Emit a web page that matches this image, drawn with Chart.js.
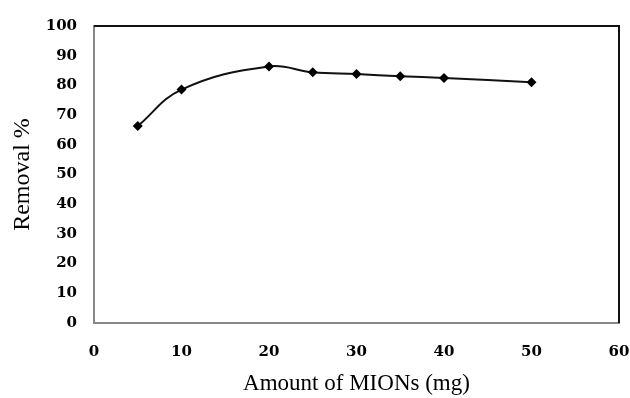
<!DOCTYPE html>
<html>
<head>
<meta charset="utf-8">
<script src="https://cdn.jsdelivr.net/npm/chart.js@4/dist/chart.umd.min.js"></script>
<style>
  html, body { margin: 0; padding: 0; background: #fff; }
  #wrap { width: 630px; height: 398px; }
</style>
</head>
<body>
<div id="wrap"><canvas id="c" width="630" height="398"></canvas></div>
<script>
// MION dose (mg) and removal efficiency (%)
const doses = [5, 10, 20, 25, 30, 35, 40, 50];
const removal = [66.3, 78.6, 86.4, 84.4, 83.8, 83.1, 82.5, 81.1];
const xTicks = [0, 10, 20, 30, 40, 50, 60];
const yTicks = [0, 10, 20, 30, 40, 50, 60, 70, 80, 90, 100];

const tickFont = { family: '"DejaVu Serif", serif', size: 15, weight: 'bold' };
const titleFont = { family: '"Liberation Serif", serif', size: 23 };

// closes the plot frame on the top and right sides
const frame = {
  id: 'frame',
  afterDatasetsDraw(chart) {
    const { ctx, chartArea: a } = chart;
    ctx.save();
    ctx.strokeStyle = '#111';
    ctx.lineWidth = 2;
    ctx.beginPath();
    ctx.moveTo(a.left, a.top);
    ctx.lineTo(a.right, a.top);
    ctx.lineTo(a.right, a.bottom);
    ctx.stroke();
    ctx.restore();
  }
};

new Chart(document.getElementById('c'), {
  type: 'line',
  data: {
    datasets: [{
      data: doses.map((d, i) => ({ x: d, y: removal[i] })),
      borderColor: '#111',
      borderWidth: 2,
      backgroundColor: '#000',
      pointStyle: 'rectRot',
      pointRadius: 5,
      pointBorderWidth: 0,
      tension: 0.4,
      cubicInterpolationMode: 'default',
      fill: false
    }]
  },
  options: {
    responsive: false,
    animation: false,
    layout: { padding: { top: 23, right: 0, left: 0, bottom: 0 } },
    plugins: { legend: { display: false }, tooltip: { enabled: false } },
    scales: {
      x: {
        type: 'linear',
        min: 0, max: 60,
        afterBuildTicks(s) { s.ticks = xTicks.map(v => ({ value: v })); },
        afterFit(s) { s.height = 75; s.paddingLeft = 0; s.paddingRight = 11; },
        grid: { display: false, drawTicks: false },
        border: { display: true, color: '#888', width: 2 },
        ticks: { color: '#000', font: tickFont, padding: 20 },
        title: { display: true, text: 'Amount of MIONs (mg)', color: '#000', font: titleFont, padding: { top: 11, bottom: 0 } }
      },
      y: {
        min: 0, max: 100,
        afterBuildTicks(s) { s.ticks = yTicks.map(v => ({ value: v })); },
        afterFit(s) { s.width = 94; },
        grid: { display: false, drawTicks: false },
        border: { display: true, color: '#888', width: 2 },
        ticks: { color: '#000', font: tickFont, padding: 17 },
        title: { display: true, text: 'Removal %', color: '#000', font: { family: '"Liberation Serif", serif', size: 24 }, padding: { top: 8, bottom: 0 } }
      }
    }
  },
  plugins: [frame]
});
</script>
</body>
</html>
